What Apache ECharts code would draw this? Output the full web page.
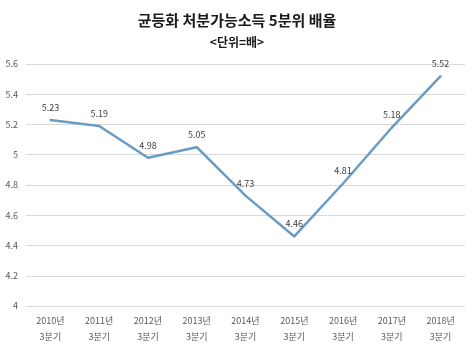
<!DOCTYPE html>
<html>
<head>
<meta charset="utf-8">
<script src="https://cdn.jsdelivr.net/npm/echarts@6/dist/echarts.min.js"></script>
<style>
  html, body { margin: 0; padding: 0; background: #fff; }
  #chart { width: 474px; height: 351px; }
</style>
</head>
<body>
<div id="chart"></div>
<script>
  // 분기 라벨
  const categories = ['2010년\n3분기', '2011년\n3분기', '2012년\n3분기', '2013년\n3분기', '2014년\n3분기',
    '2015년\n3분기', '2016년\n3분기', '2017년\n3분기', '2018년\n3분기']
  // 5분위 배율
  const ratio = [5.23, 5.19, 4.98, 5.05, 4.73, 4.46, 4.81, 5.18, 5.52]
  const yTicks = [4, 4.2, 4.4, 4.6, 4.8, 5, 5.2, 5.4, 5.6]

  const fontFamily = '"Noto Sans CJK KR", "Noto Sans", sans-serif'
  let chart = echarts.init(document.getElementById('chart'))
  chart.setOption({
    animation: false,
    textStyle: { fontFamily: fontFamily },
    title: {
      text: '균등화 처분가능소득 5분위 배율',
      subtext: '<단위=배>',
      left: 'center',
      top: 8,
      itemGap: 8,
      textStyle: { fontSize: 15, fontWeight: 'bold', color: '#1a1a1a', fontFamily: fontFamily },
      subtextStyle: { fontSize: 12, fontWeight: 'bold', color: '#1a1a1a', fontFamily: fontFamily }
    },
    grid: {
      left: 26,
      right: 9,
      top: 64,
      bottom: 45
    },
    xAxis: {
      type: 'category',
      data: categories,
      boundaryGap: true,
      axisLine: { show: false },
      axisTick: { show: false },
      axisLabel: { color: '#595959', fontSize: 9, lineHeight: 16, margin: 7, interval: 0 }
    },
    yAxis: {
      type: 'value',
      min: yTicks[0],
      max: yTicks[yTicks.length - 1],
      interval: 0.2,
      axisLine: { show: false },
      axisTick: { show: false },
      splitLine: { lineStyle: { color: '#d9d9d9', width: 1 } },
      axisLabel: {
        color: '#595959',
        fontSize: 9,
        margin: 8,
        formatter: v => String(Math.round(v * 10) / 10)
      }
    },
    series: [
      {
        name: '5분위 배율',
        type: 'line',
        data: ratio,
        symbol: 'circle',
        symbolSize: 2,
        showSymbol: true,
        showAllSymbol: true,
        lineStyle: { color: '#6a9bc3', width: 2.5 },
        itemStyle: { color: '#6a9bc3' },
        label: {
          show: true,
          position: 'top',
          distance: 7,
          color: '#404040',
          fontSize: 9
        }
      }
    ]
  })
</script>
</body>
</html>
